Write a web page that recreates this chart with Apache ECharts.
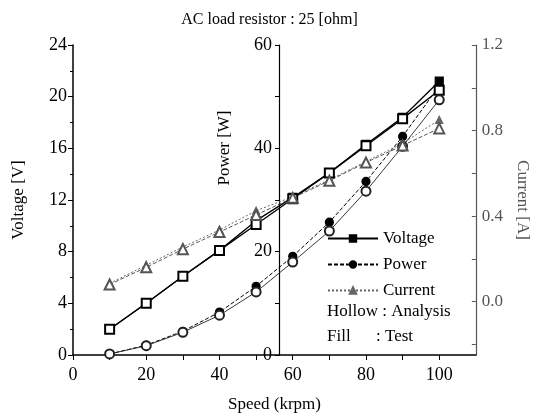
<!DOCTYPE html>
<html>
<head>
<meta charset="utf-8">
<script src="https://cdn.jsdelivr.net/npm/echarts@6/dist/echarts.min.js"></script>
<style>html,body{margin:0;padding:0;background:#fff}#c{width:539px;height:418px}</style>
</head>
<body>
<div id="c"></div>
<script>
const speed = [10, 20, 30, 40, 50, 60, 70, 80, 90, 100];
const voltageAnalysis = [2.0, 4.0, 6.1, 8.1, 10.1, 12.1, 14.1, 16.2, 18.3, 20.5];
const voltageTest = [2.0, 4.0, 6.1, 8.1, 10.4, 12.2, 14.1, 16.3, 18.4, 21.2];
const powerAnalysis = [0.2, 1.8, 4.4, 7.7, 12.2, 18.0, 24.0, 31.7, 40.4, 49.4];
const powerTest = [0.2, 1.9, 4.6, 8.3, 13.3, 19.1, 25.7, 33.6, 42.3, 52.1];
const currentAnalysis = [0.08, 0.16, 0.245, 0.325, 0.405, 0.485, 0.565, 0.65, 0.73, 0.81];
const currentTest = [0.085, 0.17, 0.255, 0.335, 0.425, 0.49, 0.57, 0.655, 0.74, 0.85];
const xTicks = [0, 20, 40, 60, 80, 100];
const voltageTicks = [0, 4, 8, 12, 16, 20, 24];
const powerTicks = [0, 20, 40, 60];
const currentTicks = [0.0, 0.4, 0.8, 1.2];

const pair = (xs, ys) => xs.map((x, i) => [x, ys[i]]);
const F = '"Liberation Serif", "DejaVu Serif", serif';
const chart = echarts.init(document.getElementById('c'));

function ser(name, data, yIdx, symbol, color, lineType, width, z, size) {
  return {
    name, type: 'line', data, yAxisIndex: yIdx, symbol, symbolSize: size || 9,
    z, lineStyle: { color, type: lineType, width },
    itemStyle: { color, borderColor: color, borderWidth: 1.2 },
    emphasis: { disabled: true }, animation: false
  };
}

chart.setOption({
  animation: false,
  title: {
    text: 'AC load resistor : 25 [ohm]', left: 'center', top: 7,
    textStyle: { fontFamily: F, fontSize: 16, fontWeight: 'normal', color: '#000' }
  },
  grid: { left: 73, right: 57, top: 45, bottom: 62 },
  legend: {
    data: ['Voltage', 'Power', 'Current'], orient: 'vertical',
    left: 322, top: 225, itemWidth: 50, itemHeight: 8, itemGap: 9,
    textStyle: { fontFamily: F, fontSize: 17, color: '#000' },
    selectedMode: false
  },
  graphic: [
    { type: 'text', left: 327, top: 303, style: { text: 'Hollow : Analysis', font: '17px ' + F, fill: '#000' } },
    { type: 'text', left: 327, top: 328, style: { text: 'Fill', font: '17px ' + F, fill: '#000' } },
    { type: 'text', left: 376, top: 328, style: { text: ': Test', font: '17px ' + F, fill: '#000' } }
  ],
  xAxis: {
    type: 'value', min: 0, max: 110, interval: 10,
    name: 'Speed (krpm)', nameLocation: 'middle', nameGap: 41,
    nameTextStyle: { fontFamily: F, fontSize: 17, color: '#000' },
    axisLine: { lineStyle: { color: '#000', width: 1.5 } },
    axisTick: { customValues: [0,10,20,30,40,50,60,70,80,90,100], length: 5, lineStyle: { color: '#000' } },
    axisLabel: { customValues: xTicks, fontFamily: F, fontSize: 18, color: '#000', margin: 11 },
    splitLine: { show: false }
  },
  yAxis: [
    {
      type: 'value', min: 0, max: 24, interval: 4, position: 'left',
      name: 'Voltage [V]', nameLocation: 'middle', nameGap: 46, nameRotate: 90,
      nameTextStyle: { fontFamily: F, fontSize: 17, color: '#000' },
      axisLine: { show: true, lineStyle: { color: '#000', width: 1.5 } },
      axisTick: { show: true, length: 5, lineStyle: { color: '#000' } },
      minorTick: { show: true, splitNumber: 2, length: 3, lineStyle: { color: '#000' } },
      axisLabel: { customValues: voltageTicks, fontFamily: F, fontSize: 18, color: '#000', margin: 6 },
      splitLine: { show: false }
    },
    {
      type: 'value', min: 0, max: 60, interval: 10, position: 'left', offset: -206,
      name: 'Power [W]', nameLocation: 'middle', nameGap: 46, nameRotate: 90,
      nameTextStyle: { fontFamily: F, fontSize: 17, color: '#000', padding: [0, 0, 0, 104] },
      axisLine: { show: true, lineStyle: { color: '#000', width: 1.2 } },
      axisTick: { show: true, length: 4, lineStyle: { color: '#000' } },
      axisLabel: { customValues: powerTicks, fontFamily: F, fontSize: 18, color: '#000', margin: 7 },
      splitLine: { show: false }
    },
    {
      type: 'value', min: -0.25, max: 1.2, position: 'right',
      name: 'Current [A]', nameLocation: 'middle', nameGap: 30, nameRotate: -90,
      nameTextStyle: { fontFamily: F, fontSize: 17, color: '#555' },
      axisLine: { show: true, lineStyle: { color: '#555', width: 1.2 } },
      axisTick: { show: true, inside: true, customValues: [-0.2, 0, 0.2, 0.4, 0.6, 0.8, 1.0, 1.2], length: 4, lineStyle: { color: '#555' } },
      axisLabel: { customValues: currentTicks, fontFamily: F, fontSize: 17, color: '#555', margin: 6,
        formatter: v => v.toFixed(1) },
      splitLine: { show: false }
    }
  ],
  series: [
    ser('Voltage', pair(speed, voltageTest), 0, 'rect', '#000', 'solid', 1.3, 3, 8),
    ser('VoltageA', pair(speed, voltageAnalysis), 0, 'emptyRect', '#000', 'solid', 1.3, 4, 9),
    ser('Power', pair(speed, powerTest), 1, 'circle', '#000', [4, 2], 1, 3, 8),
    ser('PowerA', pair(speed, powerAnalysis), 1, 'emptyCircle', '#222', 'solid', 0.9, 4, 9),
    ser('Current', pair(speed, currentTest), 2, 'triangle', '#666', [2, 2], 1, 3, 7),
    ser('CurrentA', pair(speed, currentAnalysis), 2, 'emptyTriangle', '#555', [4, 2], 1, 4, 10)
  ]
});
</script>
</body>
</html>
